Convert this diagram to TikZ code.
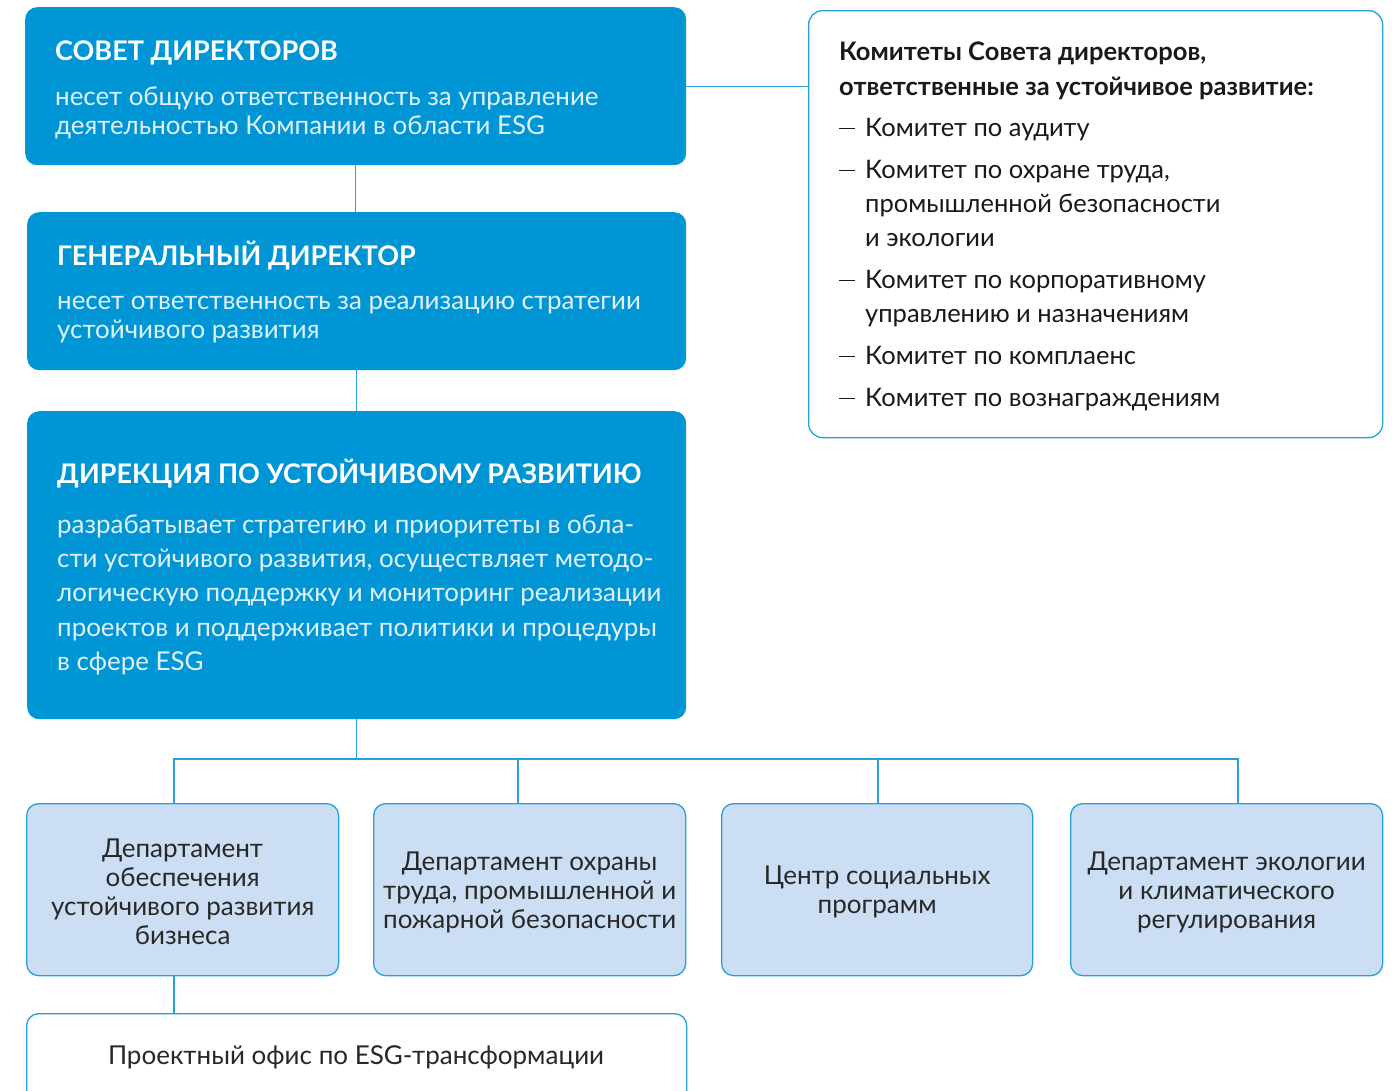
\documentclass[tikz,border=0pt]{standalone}
\usepackage{fontspec}
\setmainfont{Lato}
\usetikzlibrary{positioning}
\definecolor{deepblue}{RGB}{0,149,213}
\definecolor{paleblue}{RGB}{204,222,243}
\definecolor{edgeblue}{RGB}{38,160,218}
\definecolor{inkgray}{RGB}{40,40,40}
\tikzset{
  lead box/.style={fill=deepblue, draw=none, rounded corners=12pt, anchor=north west, inner sep=0pt},
  dept box/.style={fill=paleblue, draw=edgeblue, line width=1.3pt, rounded corners=12pt, anchor=north west, inner sep=0pt},
  plain box/.style={fill=white, draw=edgeblue, line width=1.3pt, rounded corners=14pt, anchor=north west, inner sep=0pt},
  lead title/.style={text=white, font=\fontsize{27}{32}\selectfont\bfseries, anchor=base west, inner sep=0pt},
  lead text/.style={text=white!88!deepblue, font=\fontsize{25.9}{29}\selectfont, align=left, anchor=north west, inner sep=0pt},
  dept text/.style={text=inkgray, font=\fontsize{26}{29}\selectfont, align=center, inner sep=0pt, yshift=-2.5pt},
  list text/.style={text=black!90, font=\fontsize{25.5}{34}\selectfont, align=left, anchor=north west, inner sep=0pt},
  link line/.style={draw=edgeblue, line width=1.3pt},
}
\newcommand{\itemdash}{\makebox[26pt][l]{\rule[7pt]{16pt}{1.3pt}}}
\newcommand{\itemgap}{\hspace*{26pt}}

\begin{document}
\begin{tikzpicture}[x=1pt, y=-1pt]
  \useasboundingbox (0,0) rectangle (1392,1090);
  \clip (0,0) rectangle (1392,1090);
  % top chain
  \node[lead box, minimum width=661pt, minimum height=158pt] (board) at (25,7) {};
  \node[lead box, minimum width=659pt, minimum height=158pt] (ceo) at (27,212) {};
  \node[lead box, minimum width=659pt, minimum height=308pt] (sdir) at (27,411) {};
  \node[lead title] (board title) at (55,60) {СОВЕТ ДИРЕКТОРОВ};
  \node[lead text] (board text) at (55,86.5) {несет общую ответственность за управление\\деятельностью Компании в области ESG};
  \node[lead title] (ceo title) at (57,265) {ГЕНЕРАЛЬНЫЙ ДИРЕКТОР};
  \node[lead text] (ceo text) at (57,295.5) {несет ответственность за реализацию стратегии\\устойчивого развития};
  \node[lead title] (sdir title) at (57,483) {ДИРЕКЦИЯ ПО УСТОЙЧИВОМУ РАЗВИТИЮ};
  \node[lead text, font=\fontsize{25.9}{34.3}\selectfont] (sdir text) at (57,514.5) {разрабатывает стратегию и приоритеты в обла-\\сти устойчивого развития, осуществляет методо-\\логическую поддержку и мониторинг реализации\\проектов и поддерживает политики и процедуры\\в сфере ESG};
  % committees
  \node[plain box, minimum width=574pt, minimum height=427pt] (cmt) at (808,10) {};
  \node[list text] (cmt text) at (839,41.5) {\textbf{Комитеты Совета директоров,}\\[1pt]
    \textbf{ответственные за устойчивое развитие:}\\[7pt]
    \itemdash Комитет по аудиту\\[8pt]
    \itemdash Комитет по охране труда,\\
    \itemgap промышленной безопасности\\
    \itemgap и экологии\\[8pt]
    \itemdash Комитет по корпоративному\\
    \itemgap управлению и назначениям\\[8pt]
    \itemdash Комитет по комплаенс\\[8pt]
    \itemdash Комитет по вознаграждениям};
  % departments
  \node[dept box, minimum width=312pt, minimum height=172pt] (dep1) at (26,803) {};
  \node[dept box, minimum width=312pt, minimum height=172pt] (dep2) at (373,803) {};
  \node[dept box, minimum width=311pt, minimum height=172pt] (dep3) at (721,803) {};
  \node[dept box, minimum width=312pt, minimum height=172pt] (dep4) at (1070,803) {};
  \node[dept text] (dep1 text) at (dep1.center) {Департамент\\обеспечения\\устойчивого развития\\бизнеса};
  \node[dept text] (dep2 text) at (dep2.center) {Департамент охраны\\труда, промышленной и\\пожарной безопасности};
  \node[dept text] (dep3 text) at (dep3.center) {Центр социальных\\программ};
  \node[dept text] (dep4 text) at (dep4.center) {Департамент экологии\\и климатического\\регулирования};
  \node[plain box, rounded corners=12pt, minimum width=660pt, minimum height=100pt] (office) at (26,1013) {};
  \node[dept text] (office text) at (356,1055) {Проектный офис по ESG-трансформации};
  % connectors
  \coordinate (busL) at (174,759);
  \coordinate (busR) at (1238,759);
  \coordinate (drop2) at (518,759);
  \coordinate (drop3) at (878,759);
  \draw[link line] (board.east) -- (board.east -| cmt.west);
  \draw[link line] (board.south) -- (board.south |- ceo.north);
  \draw[link line] (ceo.south) -- (ceo.south |- sdir.north);
  \draw[link line] (sdir.south) -- (sdir.south |- busL);
  \draw[link line] (busL |- dep1.north) -- (busL) -- (busR) -- (busR |- dep4.north);
  \draw[link line] (drop2) -- (drop2 |- dep2.north);
  \draw[link line] (drop3) -- (drop3 |- dep3.north);
  \draw[link line] (busL |- dep1.south) -- (busL |- office.north);
\end{tikzpicture}
\end{document}
